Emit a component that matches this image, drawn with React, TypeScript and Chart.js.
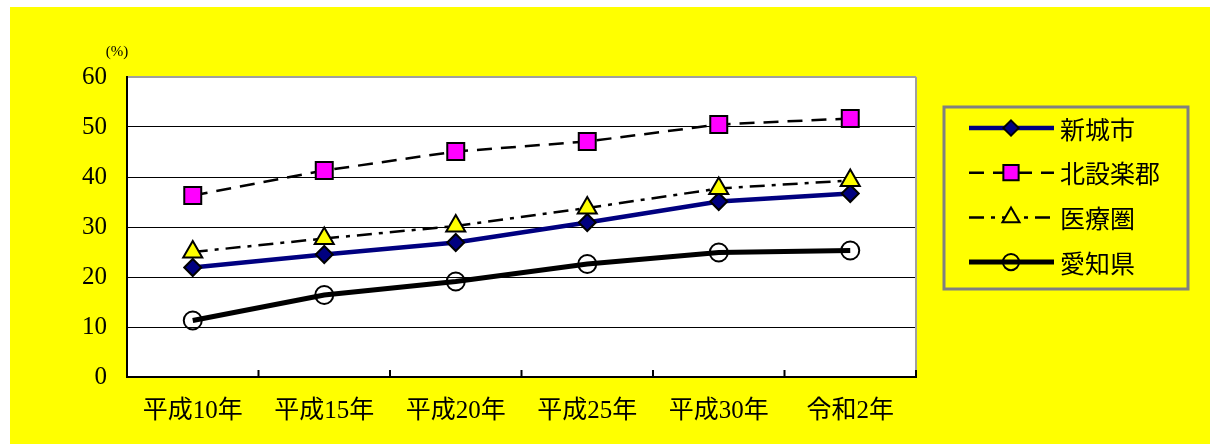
import React, { useEffect, useRef } from 'react';
import { Chart, registerables } from 'chart.js';

Chart.register(...registerables);

const categories = ['平成10年', '平成15年', '平成20年', '平成25年', '平成30年', '令和2年'];
const seriesNames = ['新城市', '北設楽郡', '医療圏', '愛知県'];
const shinshiro = [21.9, 24.5, 26.9, 30.9, 35.1, 36.7];
const kitashitara = [36.3, 41.3, 45.1, 47.1, 50.5, 51.7];
const iryouken = [25.0, 27.7, 30.2, 33.8, 37.7, 39.3];
const aichi = [11.3, 16.4, 19.1, 22.6, 24.9, 25.3];
const yMin = 0;
const yMax = 60;
const yStep = 10;
const unitLabel = '(%)';

const FONT = "'Liberation Serif', 'Noto Sans CJK JP', serif";

function drawMarker(ctx: CanvasRenderingContext2D, style: string, x: number, y: number, r: number) {
  ctx.beginPath();
  if (style === 'rectRot') {
    ctx.moveTo(x, y - r);
    ctx.lineTo(x + r, y);
    ctx.lineTo(x, y + r);
    ctx.lineTo(x - r, y);
    ctx.closePath();
  } else if (style === 'rect') {
    const s = r * Math.SQRT1_2;
    ctx.rect(x - s, y - s, 2 * s, 2 * s);
  } else if (style === 'triangle') {
    ctx.moveTo(x, y - r);
    ctx.lineTo(x + Math.sin((2 * Math.PI) / 3) * r, y + r / 2);
    ctx.lineTo(x - Math.sin((2 * Math.PI) / 3) * r, y + r / 2);
    ctx.closePath();
  } else {
    ctx.arc(x, y, r, 0, Math.PI * 2);
  }
}

const decorPlugin = {
  id: 'decor',
  beforeDraw(chart: any) {
    const { ctx, chartArea: a } = chart;
    ctx.save();
    ctx.fillStyle = '#ffff00';
    ctx.fillRect(10, 7, chart.width - 10, chart.height - 7);
    ctx.fillStyle = '#ffffff';
    ctx.fillRect(a.left, a.top, a.right - a.left, a.bottom - a.top);
    ctx.restore();
  },
  beforeDatasetsDraw(chart: any) {
    const { ctx, chartArea: a } = chart;
    const xs = chart.scales.x;
    ctx.save();
    ctx.strokeStyle = '#a0a0a0';
    ctx.lineWidth = 2;
    ctx.beginPath();
    ctx.moveTo(a.right, a.top);
    ctx.lineTo(a.right, a.bottom);
    ctx.stroke();
    ctx.strokeStyle = '#000';
    ctx.lineWidth = 2;
    const n = categories.length;
    const half = (xs.getPixelForValue(1) - xs.getPixelForValue(0)) / 2;
    for (let i = 0; i < n; i++) {
      const bx = xs.getPixelForValue(i) + half;
      ctx.beginPath();
      ctx.moveTo(bx, a.bottom);
      ctx.lineTo(bx, a.bottom - 7);
      ctx.stroke();
    }
    ctx.fillStyle = '#000';
    ctx.font = `15px ${FONT}`;
    ctx.textAlign = 'center';
    ctx.textBaseline = 'middle';
    ctx.fillText(unitLabel, a.left - 10, a.top - 25);
    ctx.restore();
  },
  afterDraw(chart: any) {
    const { ctx } = chart;
    const bx = 944, by = 107, bw = 244, bh = 182;
    ctx.save();
    ctx.strokeStyle = '#808080';
    ctx.lineWidth = 3;
    ctx.strokeRect(bx, by, bw, bh);
    chart.data.datasets.forEach((ds: any, i: number) => {
      const y = 128 + i * 44.7;
      ctx.save();
      ctx.strokeStyle = ds.borderColor;
      ctx.lineWidth = ds.borderWidth;
      ctx.setLineDash(ds.borderDash || []);
      ctx.beginPath();
      ctx.moveTo(969, y);
      ctx.lineTo(1054, y);
      ctx.stroke();
      ctx.setLineDash([]);
      drawMarker(ctx, ds.pointStyle, 1011, y, ds.pointRadius * 0.9);
      ctx.fillStyle = ds.pointBackgroundColor;
      ctx.fill();
      ctx.strokeStyle = ds.pointBorderColor;
      ctx.lineWidth = ds.pointBorderWidth;
      ctx.stroke();
      ctx.restore();
      ctx.fillStyle = '#000';
      ctx.font = `25px 'Noto Sans CJK JP', sans-serif`;
      ctx.textAlign = 'left';
      ctx.textBaseline = 'middle';
      ctx.fillText(seriesNames[i], 1060, y + 1);
    });
    ctx.restore();
  },
};

export default function App() {
  const ref = useRef<HTMLCanvasElement | null>(null);
  useEffect(() => {
    if (!ref.current) return;
    const chart = new Chart(ref.current, {
      type: 'line',
      data: {
        labels: categories,
        datasets: [
          {
            label: seriesNames[0],
            data: shinshiro,
            borderColor: '#000080',
            borderWidth: 4.5,
            pointStyle: 'rectRot',
            pointRadius: 8.5,
            pointBackgroundColor: '#000080',
            pointBorderColor: '#000000',
            pointBorderWidth: 2,
            order: 4,
          },
          {
            label: seriesNames[1],
            data: kitashitara,
            borderColor: '#000000',
            borderWidth: 2.5,
            borderDash: [15, 9],
            pointStyle: 'rect',
            pointRadius: 12,
            pointBackgroundColor: '#ff00ff',
            pointBorderColor: '#000000',
            pointBorderWidth: 2,
            order: 3,
          },
          {
            label: seriesNames[2],
            data: iryouken,
            borderColor: '#000000',
            borderWidth: 2.5,
            borderDash: [15, 7, 4, 7],
            pointStyle: 'triangle',
            pointRadius: 11,
            pointBackgroundColor: '#ffff00',
            pointBorderColor: '#000000',
            pointBorderWidth: 2,
            order: 2,
          },
          {
            label: seriesNames[3],
            data: aichi,
            borderColor: '#000000',
            borderWidth: 5,
            pointStyle: 'circle',
            pointRadius: 9,
            pointBackgroundColor: 'rgba(0,0,0,0)',
            pointBorderColor: '#000000',
            pointBorderWidth: 2,
            order: 1,
          },
        ] as any,
      },
      options: {
        animation: false,
        responsive: true,
        maintainAspectRatio: false,
        layout: { padding: { left: 0, top: 77, right: 294, bottom: 0 } },
        plugins: { legend: { display: false }, tooltip: { enabled: false } },
        elements: { line: { tension: 0 } },
        scales: {
          x: {
            type: 'category',
            offset: true,
            grid: { display: true, drawOnChartArea: false, drawTicks: false, offset: true },
            border: { display: true, color: '#000000', width: 2 },
            ticks: { color: '#000000', font: { size: 25, family: FONT }, padding: 19, maxRotation: 0, autoSkip: false },
            afterFit: (s: any) => { s.height = 67; },
          },
          y: {
            min: yMin,
            max: yMax,
            grid: {
              color: (c: any) => (c.tick && c.tick.value === yMax ? '#a0a0a0' : '#000000'),
              lineWidth: (c: any) => (c.tick && c.tick.value === yMax ? 2 : 1),
              drawTicks: false,
            },
            border: { display: true, color: '#000000', width: 2 },
            ticks: { stepSize: yStep, color: '#000000', font: { size: 25, family: FONT }, padding: 20 },
            afterFit: (s: any) => { s.width = 127; },
          },
        },
      },
      plugins: [decorPlugin],
    });
    return () => chart.destroy();
  }, []);
  return (
    <div style={{ position: 'fixed', left: 0, top: 0, width: 1210, height: 444, background: '#fff' }}>
      <canvas ref={ref} />
    </div>
  );
}
